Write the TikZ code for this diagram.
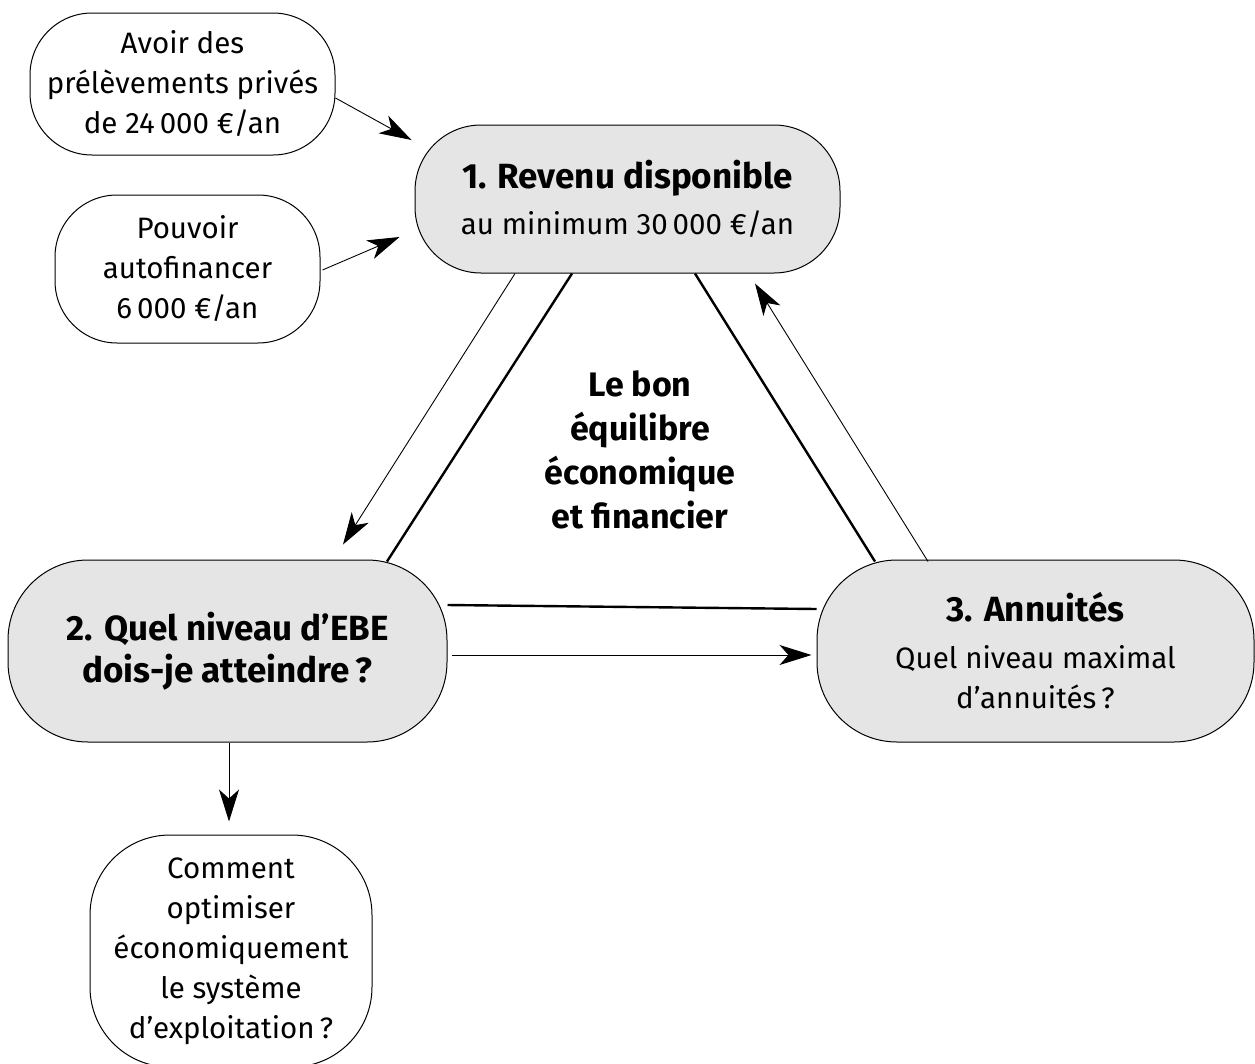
\documentclass[tikz,border=0pt]{standalone}
\usepackage{fontspec}
\setmainfont{Fira Sans}
\usetikzlibrary{arrows.meta,calc}
\newcommand{\ttl}[1]{{\fontsize{35}{40}\selectfont\bfseries #1}}
\begin{document}
\begin{tikzpicture}[x=1pt,y=-1pt,
  txt/.style={font=\fontsize{29.5}{40}\selectfont},
  box/.style={draw, line width=1pt, rounded corners=#1, align=center, inner sep=0pt, txt},
  gbox/.style={box=#1, fill=black!10},
  arr/.style={line width=0.9pt, -{Stealth[length=32pt,width=20pt,inset=9pt]}},
  tri/.style={line width=2.4pt}]
\useasboundingbox (0,0) rectangle (1255,1063);
\clip (0,0) rectangle (1255,1063);
\node[box=62pt, minimum width=305pt, minimum height=142pt] (A) at (182.5,84)
  {Avoir des\\prélèvements privés\\de 24\,000 €/an};
\node[box=62pt, minimum width=265pt, minimum height=148pt] (P) at (187.5,269)
  {Pouvoir\\autofinancer\\6\,000 €/an};
\node[gbox=66pt, minimum width=425pt, minimum height=148pt] (N1) at (627.5,199)
  {\ttl{1. Revenu disponible}\\[6pt]au minimum 30\,000 €/an};
\node[gbox=80pt, minimum width=439pt, minimum height=182pt, font=\fontsize{35}{42}\selectfont\bfseries] (N2) at (227.5,651)
  {2. Quel niveau d’EBE\\dois-je atteindre\,?};
\node[gbox=80pt, minimum width=437pt, minimum height=182pt] (N3) at (1035.5,651)
  {\ttl{3. Annuités}\\[7pt]Quel niveau maximal\\d’annuités\,?};
\node[box=80pt, minimum width=282pt, minimum height=232pt] (C) at (231,951)
  {Comment\\optimiser\\économiquement\\le système\\d’exploitation\,?};
\node[align=center, font=\fontsize{34}{44}\selectfont\bfseries] (M) at (640,450)
  {Le bon\\équilibre\\économique\\et financier};
% triangle
\draw[tri] ($(N1.south)+(-55.5,0)$) -- ($(N2.north)+(159.5,2)$);
\draw[tri] ($(N1.south)+(67.5,0)$) -- ($(N3.north)+(-160.5,2)$);
\draw[tri] ($(N2.east)+(0,-46)$) -- ($(N3.west)+(0,-42)$);
% arrows
\coordinate (t1) at ($(N2.north)+(115.5,-15)$);
\coordinate (t2) at ($(N1.south)+(127.5,10)$);
\coordinate (t3) at ($(N3.west)+(-5,4)$);
\coordinate (t4) at ($(C.north)+(-2,-13)$);
\coordinate (t5) at ($(N1.west)+(-3,-59)$);
\coordinate (t6) at ($(N1.west)+(-15,38)$);
\draw[arr] ($(N1.south)+(-112.5,0)$) -- (t1);
\draw[arr] ($(N3.north)+(-107.5,2)$) -- (t2);
\draw[arr] ($(N2.east)+(4,4)$) -- (t3);
\draw[arr] ($(N2.south)+(1.5,0)$) -- (t4);
\draw[arr] ($(A.east)+(0,14)$) -- (t5);
\draw[arr] ($(P.east)+(2,1)$) -- (t6);
\end{tikzpicture}
\end{document}
